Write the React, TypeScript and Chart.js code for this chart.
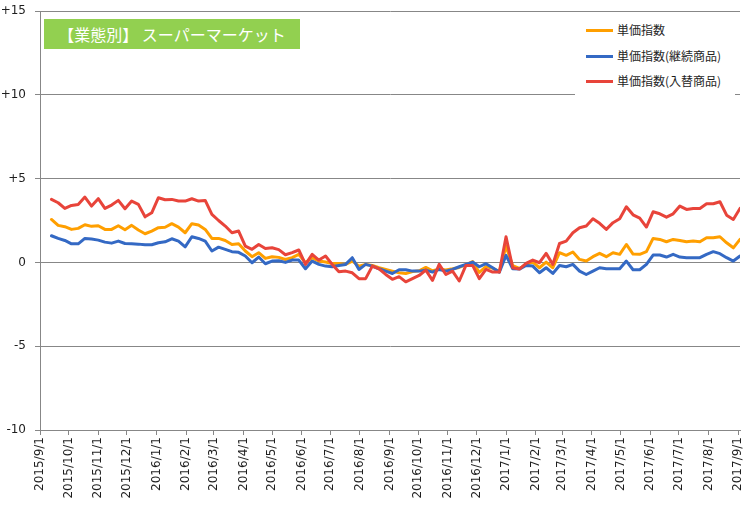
import React, { useEffect, useRef } from "react";
import { Chart, registerables } from "chart.js";

Chart.register(...registerables);

const TITLE = "【業態別】 スーパーマーケット";
const SERIES_NAMES = ["単価指数", "単価指数(継続商品)", "単価指数(入替商品)"];
const SERIES_COLORS = ["#FF9F00", "#3469C4", "#E8443A"];

// weekly observations, first week 2015/9/13
const FIRST_WEEK = Date.UTC(2015, 8, 13);
const AXIS_START = Date.UTC(2015, 8, 1);
const WEEK_COUNT = 104;

const unitPrice = [
  2.56, 2.21, 2.13, 1.97, 2.03, 2.25, 2.15, 2.19, 1.97, 1.97, 2.19, 1.95, 2.21, 1.93, 1.71, 1.87,
  2.07, 2.10, 2.31, 2.11, 1.77, 2.31, 2.23, 1.97, 1.43, 1.43, 1.31, 1.07, 1.11, 0.68, 0.34, 0.58,
  0.24, 0.34, 0.30, 0.17, 0.28, 0.48, -0.02, 0.28, 0.08, 0.02, -0.06, -0.06, -0.12, 0.08, -0.22, -0.12,
  -0.18, -0.32, -0.42, -0.52, -0.62, -0.66, -0.55, -0.5, -0.3, -0.5, -0.4, -0.45, -0.38, -0.3, -0.15, 0.05,
  -0.6, -0.25, -0.35, -0.55, 0.97, -0.2, -0.36, -0.12, 0.02, -0.32, 0.02, -0.32, 0.58, 0.42, 0.62, 0.18,
  0.08, 0.34, 0.54, 0.34, 0.58, 0.48, 1.07, 0.50, 0.48, 0.64, 1.43, 1.37, 1.23, 1.37, 1.31, 1.23,
  1.27, 1.23, 1.47, 1.47, 1.53, 1.17, 0.87, 1.37,
];

const continuing = [
  1.59, 1.43, 1.31, 1.11, 1.11, 1.43, 1.39, 1.33, 1.21, 1.15, 1.27, 1.13, 1.11, 1.09, 1.05, 1.05,
  1.17, 1.23, 1.41, 1.27, 0.93, 1.53, 1.43, 1.27, 0.68, 0.91, 0.78, 0.64, 0.60, 0.38, -0.02, 0.32,
  -0.08, 0.08, 0.10, 0.00, 0.14, 0.14, -0.38, 0.08, -0.12, -0.22, -0.26, -0.18, -0.12, 0.28, -0.42, -0.12,
  -0.22, -0.38, -0.52, -0.66, -0.44, -0.44, -0.52, -0.52, -0.46, -0.58, -0.42, -0.52, -0.42, -0.26, -0.12, 0.02,
  -0.26, -0.08, -0.32, -0.58, 0.42, -0.38, -0.40, -0.18, -0.22, -0.62, -0.32, -0.66, -0.18, -0.26, -0.12, -0.52,
  -0.72, -0.52, -0.32, -0.38, -0.38, -0.38, 0.08, -0.44, -0.44, -0.12, 0.44, 0.44, 0.32, 0.48, 0.32, 0.28,
  0.28, 0.28, 0.48, 0.64, 0.52, 0.28, 0.08, 0.38,
];

const replaced = [
  3.76, 3.56, 3.22, 3.40, 3.46, 3.90, 3.36, 3.80, 3.22, 3.42, 3.70, 3.20, 3.66, 3.46, 2.72, 2.96,
  3.86, 3.74, 3.76, 3.66, 3.66, 3.80, 3.66, 3.70, 2.86, 2.50, 2.17, 1.77, 1.87, 0.97, 0.78, 1.07,
  0.83, 0.87, 0.76, 0.46, 0.58, 0.74, -0.12, 0.48, 0.14, 0.38, -0.12, -0.56, -0.52, -0.62, -0.97, -0.97,
  -0.22, -0.38, -0.72, -1.01, -0.85, -1.16, -0.97, -0.78, -0.46, -1.07, -0.12, -0.72, -0.52, -1.11, -0.18, -0.18,
  -0.97, -0.42, -0.58, -0.58, 1.53, -0.32, -0.40, -0.06, 0.14, -0.02, 0.54, -0.12, 1.13, 1.27, 1.77, 2.07,
  2.17, 2.60, 2.33, 1.97, 2.37, 2.60, 3.32, 2.84, 2.64, 2.11, 3.02, 2.90, 2.70, 2.90, 3.36, 3.16,
  3.22, 3.22, 3.50, 3.50, 3.62, 2.82, 2.56, 3.22,
];

const Y_TICKS = [-10, -5, 0, 5, 10, 15];

const DAY = 86400000;
const dayOf = (t: number) => Math.round((t - AXIS_START) / DAY);

const weekDays = Array.from({ length: WEEK_COUNT }, (_, i) => dayOf(FIRST_WEEK) + 7 * i);

const monthTicks: { day: number; label: string }[] = [];
for (let m = 0; m <= 24; m++) {
  const t = Date.UTC(2015, 8 + m, 1);
  const d = new Date(t);
  monthTicks.push({
    day: dayOf(t),
    label: `${d.getUTCFullYear()}/${d.getUTCMonth() + 1}/1`,
  });
}
const tickLabelByDay: Record<number, string> = {};
monthTicks.forEach((m) => (tickLabelByDay[m.day] = m.label));

const toPoints = (vals: number[]) => vals.map((v, i) => ({ x: weekDays[i], y: v }));

const zeroPad = (scale: any) => {
  scale.paddingLeft = 0;
  scale.paddingRight = 0;
  scale.paddingTop = 0;
  scale.paddingBottom = 0;
};

export default function App() {
  const canvasRef = useRef<HTMLCanvasElement | null>(null);

  useEffect(() => {
    if (!canvasRef.current) return;
    const gridColor = "#878787";
    const chart = new Chart(canvasRef.current, {
      type: "line",
      data: {
        datasets: [
          { label: SERIES_NAMES[0], data: toPoints(unitPrice), borderColor: SERIES_COLORS[0], order: 2 },
          { label: SERIES_NAMES[1], data: toPoints(continuing), borderColor: SERIES_COLORS[1], order: 1 },
          { label: SERIES_NAMES[2], data: toPoints(replaced), borderColor: SERIES_COLORS[2], order: 0 },
        ].map((d) => ({
          ...d,
          borderWidth: 3,
          pointRadius: 0,
          tension: 0,
          fill: false,
          borderJoinStyle: "round" as const,
          borderCapStyle: "round" as const,
        })),
      },
      options: {
        animation: false,
        responsive: true,
        maintainAspectRatio: false,
        devicePixelRatio: 1,
        layout: { padding: { top: 11, right: 6, left: 0, bottom: 0 } },
        plugins: { legend: { display: false }, tooltip: { enabled: false } },
        scales: {
          x: {
            type: "linear",
            min: 0,
            max: dayOf(Date.UTC(2017, 8, 3)),
            afterBuildTicks: (scale: any) => {
              scale.ticks = monthTicks.map((m) => ({ value: m.day }));
            },
            afterFit: (scale: any) => {
              scale.height = 79;
              zeroPad(scale);
            },
            grid: {
              drawOnChartArea: false,
              drawTicks: true,
              tickLength: 5,
              color: gridColor,
            },
            border: { display: true, color: gridColor },
            ticks: {
              autoSkip: false,
              minRotation: 90,
              maxRotation: 90,
              padding: 2,
              color: "#1e1e1e",
              font: { family: "'DejaVu Sans', sans-serif", size: 12 },
              callback: (v: any) => tickLabelByDay[v as number] ?? "",
            },
          },
          y: {
            min: -10,
            max: 15,
            afterBuildTicks: (scale: any) => {
              scale.ticks = Y_TICKS.map((v) => ({ value: v }));
            },
            afterFit: (scale: any) => {
              scale.width = 40;
              zeroPad(scale);
            },
            grid: { color: gridColor, tickLength: 5, lineWidth: 1 },
            border: { display: true, color: gridColor },
            ticks: {
              padding: 9,
              color: "#1e1e1e",
              font: { family: "'DejaVu Sans', sans-serif", size: 12 },
              callback: (v: any) => (v > 0 ? `+${v}` : `${v}`),
            },
          },
        },
      },
    });
    return () => chart.destroy();
  }, []);

  const legendTops = [30, 56, 81];

  return (
    <div style={{ position: "fixed", left: 0, top: 0, width: 746, height: 509, background: "#fff" }}>
      <canvas ref={canvasRef} style={{ position: "absolute", left: 0, top: 0, width: 746, height: 509 }} />
      <div
        style={{
          position: "absolute",
          left: 44,
          top: 19,
          width: 256,
          height: 30,
          background: "#92D050",
          color: "#fff",
          fontFamily: "'Noto Sans CJK JP', sans-serif",
          fontSize: 16,
          display: "flex",
          alignItems: "center",
          justifyContent: "center",
          whiteSpace: "nowrap",
        }}
      >
        {TITLE}
      </div>
      <div
        style={{
          position: "absolute",
          left: 575,
          top: 13,
          width: 160,
          height: 84,
          background: "#fff",
        }}
      >
        {SERIES_NAMES.map((name, i) => (
          <React.Fragment key={name}>
            <div
              style={{
                position: "absolute",
                left: 11,
                top: legendTops[i] - 13 - 1.5,
                width: 27,
                height: 3,
                background: SERIES_COLORS[i],
              }}
            />
            <div
              style={{
                position: "absolute",
                left: 42,
                top: legendTops[i] - 13 - 9,
                height: 18,
                lineHeight: "18px",
                fontFamily: "'Noto Sans CJK JP', sans-serif",
                fontSize: 12,
                color: "#1e1e1e",
                whiteSpace: "nowrap",
              }}
            >
              {name}
            </div>
          </React.Fragment>
        ))}
      </div>
    </div>
  );
}
